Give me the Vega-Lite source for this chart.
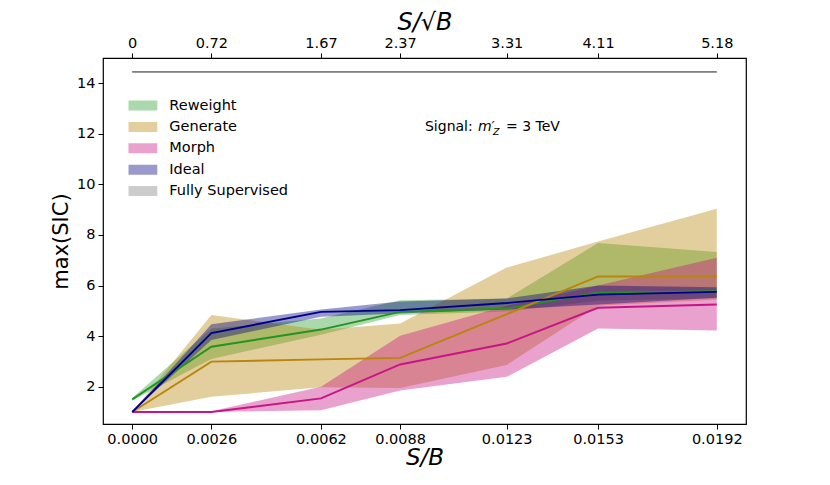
{
  "$schema": "https://vega.github.io/schema/vega-lite/v6.json",
  "width": 643,
  "height": 366,
  "autosize": {"type": "none"},
  "padding": {"left": 103, "top": 58, "right": 84, "bottom": 61},
  "background": "white",
  "config": {
    "font": "DejaVu Sans",
    "view": {"stroke": "black", "strokeWidth": 1.2},
    "axis": {
      "grid": false,
      "domain": false,
      "labelColor": "black",
      "labelFontSize": 14.5,
      "tickColor": "black",
      "tickSize": 5,
      "tickWidth": 1,
      "labelPadding": 3,
      "titleColor": "black",
      "titleFontWeight": "normal",
      "titleFontSize": 20
    }
  },
  "datasets": {
    "curves": [
      {"method": "Reweight", "sb": 0.0, "mean": 1.5, "lo": 1.45, "hi": 1.55},
      {"method": "Reweight", "sb": 0.0026, "mean": 3.58, "lo": 3.1, "hi": 4.3},
      {"method": "Reweight", "sb": 0.0062, "mean": 4.26, "lo": 4.05, "hi": 4.7},
      {"method": "Reweight", "sb": 0.0088, "mean": 4.96, "lo": 4.84, "hi": 5.42},
      {"method": "Reweight", "sb": 0.0123, "mean": 5.09, "lo": 4.97, "hi": 5.49},
      {"method": "Reweight", "sb": 0.0153, "mean": 5.72, "lo": 5.4, "hi": 7.68},
      {"method": "Reweight", "sb": 0.0192, "mean": 5.78, "lo": 5.5, "hi": 7.33},
      {"method": "Generate", "sb": 0.0, "mean": 1.0, "lo": 1.0, "hi": 1.0},
      {"method": "Generate", "sb": 0.0026, "mean": 2.99, "lo": 1.6, "hi": 4.84},
      {"method": "Generate", "sb": 0.0062, "mean": 3.08, "lo": 1.98, "hi": 4.25},
      {"method": "Generate", "sb": 0.0088, "mean": 3.14, "lo": 1.95, "hi": 4.5},
      {"method": "Generate", "sb": 0.0123, "mean": 4.87, "lo": 2.86, "hi": 6.71},
      {"method": "Generate", "sb": 0.0153, "mean": 6.36, "lo": 5.2, "hi": 7.74},
      {"method": "Generate", "sb": 0.0192, "mean": 6.36, "lo": 5.45, "hi": 9.04},
      {"method": "Morph", "sb": 0.0, "mean": 1.0, "lo": 1.0, "hi": 1.0},
      {"method": "Morph", "sb": 0.0026, "mean": 1.0, "lo": 1.0, "hi": 1.03},
      {"method": "Morph", "sb": 0.0062, "mean": 1.54, "lo": 1.07, "hi": 2.0},
      {"method": "Morph", "sb": 0.0088, "mean": 2.88, "lo": 1.85, "hi": 4.02},
      {"method": "Morph", "sb": 0.0123, "mean": 3.71, "lo": 2.39, "hi": 5.2},
      {"method": "Morph", "sb": 0.0153, "mean": 5.12, "lo": 4.3, "hi": 6.0},
      {"method": "Morph", "sb": 0.0192, "mean": 5.25, "lo": 4.22, "hi": 7.1},
      {"method": "Ideal", "sb": 0.0, "mean": 1.0, "lo": 1.0, "hi": 1.0},
      {"method": "Ideal", "sb": 0.0026, "mean": 4.12, "lo": 3.85, "hi": 4.47},
      {"method": "Ideal", "sb": 0.0062, "mean": 4.96, "lo": 4.77, "hi": 5.05},
      {"method": "Ideal", "sb": 0.0088, "mean": 5.03, "lo": 4.9, "hi": 5.37},
      {"method": "Ideal", "sb": 0.0123, "mean": 5.31, "lo": 5.05, "hi": 5.49},
      {"method": "Ideal", "sb": 0.0153, "mean": 5.64, "lo": 5.25, "hi": 6.0},
      {"method": "Ideal", "sb": 0.0192, "mean": 5.75, "lo": 5.52, "hi": 5.93},
      {"method": "Fully Supervised", "sb": 0.0, "mean": 14.45, "lo": 14.43, "hi": 14.47},
      {"method": "Fully Supervised", "sb": 0.0026, "mean": 14.45, "lo": 14.43, "hi": 14.47},
      {"method": "Fully Supervised", "sb": 0.0062, "mean": 14.45, "lo": 14.43, "hi": 14.47},
      {"method": "Fully Supervised", "sb": 0.0088, "mean": 14.45, "lo": 14.43, "hi": 14.47},
      {"method": "Fully Supervised", "sb": 0.0123, "mean": 14.45, "lo": 14.43, "hi": 14.47},
      {"method": "Fully Supervised", "sb": 0.0153, "mean": 14.45, "lo": 14.43, "hi": 14.47},
      {"method": "Fully Supervised", "sb": 0.0192, "mean": 14.45, "lo": 14.43, "hi": 14.47}
    ],
    "note": [{"sb": 0.009616, "val": 12.125}]
  },
  "layer": [
    {
      "data": {"name": "curves"},
      "mark": {"type": "area", "opacity": 0.4},
      "encoding": {
        "x": {
          "field": "sb", "type": "quantitative",
          "scale": {"domain": [-0.00096, 0.02016], "nice": false, "zero": false},
          "axis": {
            "orient": "bottom",
            "values": [0, 0.0026, 0.0062, 0.0088, 0.0123, 0.0153, 0.0192],
            "format": ".4f",
            "title": "S/B",
            "titleFontStyle": "italic",
            "titleFontSize": 23,
            "titlePadding": 1,
            "labelFlush": false,
            "labelOverlap": false
          }
        },
        "y": {
          "field": "lo", "type": "quantitative",
          "scale": {"domain": [0.525, 15.0], "nice": false, "zero": false},
          "axis": {
            "values": [2, 4, 6, 8, 10, 12, 14],
            "title": "max(SIC)",
            "titleFontSize": 21,
            "titlePadding": 5,
            "labelFlush": false
          }
        },
        "y2": {"field": "hi"},
        "fill": {
          "field": "method", "type": "nominal",
          "scale": {
            "domain": ["Reweight", "Generate", "Morph", "Ideal", "Fully Supervised"],
            "range": ["#2ca02c", "#b8860b", "#c71585", "#000080", "#808080"]
          },
          "legend": {
            "orient": "none",
            "legendX": 25.3,
            "legendY": 39,
            "title": null,
            "padding": 0,
            "symbolType": "M-1,-0.345H1V0.345H-1Z",
            "symbolSize": 841,
            "symbolOpacity": 0.4,
            "symbolStrokeWidth": 0,
            "clipHeight": 17,
            "rowPadding": 4.4,
            "labelOffset": 12,
            "labelFontSize": 14.5,
            "labelColor": "black",
            "labelLimit": 300
          }
        }
      }
    },
    {
      "data": {"name": "curves"},
      "mark": {"type": "line", "strokeWidth": 1.9},
      "encoding": {
        "x": {
          "field": "sb", "type": "quantitative",
          "axis": {
            "orient": "top",
            "values": [0, 0.0026, 0.0062, 0.0088, 0.0123, 0.0153, 0.0192],
            "labelExpr": "datum.value == 0 ? '0' : datum.value == 0.0026 ? '0.72' : datum.value == 0.0062 ? '1.67' : datum.value == 0.0088 ? '2.37' : datum.value == 0.0123 ? '3.31' : datum.value == 0.0153 ? '4.11' : '5.18'",
            "title": "S/√B",
            "titleFontStyle": "italic",
            "titleFontSize": 24,
            "titlePadding": 1,
            "labelFlush": false,
            "labelOverlap": false
          }
        },
        "y": {"field": "mean", "type": "quantitative", "axis": null},
        "stroke": {
          "field": "method", "type": "nominal",
          "scale": {
            "domain": ["Reweight", "Generate", "Morph", "Ideal", "Fully Supervised"],
            "range": ["#239323", "#b8860b", "#c71585", "#00008b", "#808080"]
          },
          "legend": null
        }
      }
    },
    {
      "data": {"name": "note"},
      "mark": {"type": "text", "align": "left", "baseline": "alphabetic", "fontSize": 14, "color": "black", "text": "Signal:"},
      "encoding": {
        "x": {"field": "sb", "type": "quantitative", "axis": null},
        "y": {"field": "val", "type": "quantitative", "axis": null}
      }
    },
    {
      "data": {"name": "note"},
      "mark": {"type": "text", "align": "left", "baseline": "alphabetic", "fontSize": 14, "fontStyle": "italic", "color": "black", "dx": 53, "text": "m′"},
      "encoding": {
        "x": {"field": "sb", "type": "quantitative", "axis": null},
        "y": {"field": "val", "type": "quantitative", "axis": null}
      }
    },
    {
      "data": {"name": "note"},
      "mark": {"type": "text", "align": "left", "baseline": "alphabetic", "fontSize": 9.5, "fontStyle": "italic", "color": "black", "dx": 68, "dy": 4, "text": "Z"},
      "encoding": {
        "x": {"field": "sb", "type": "quantitative", "axis": null},
        "y": {"field": "val", "type": "quantitative", "axis": null}
      }
    },
    {
      "data": {"name": "note"},
      "mark": {"type": "text", "align": "left", "baseline": "alphabetic", "fontSize": 14, "color": "black", "dx": 81, "text": "= 3 TeV"},
      "encoding": {
        "x": {"field": "sb", "type": "quantitative", "axis": null},
        "y": {"field": "val", "type": "quantitative", "axis": null}
      }
    }
  ],
  "resolve": {"axis": {"x": "independent", "y": "independent"}}
}
